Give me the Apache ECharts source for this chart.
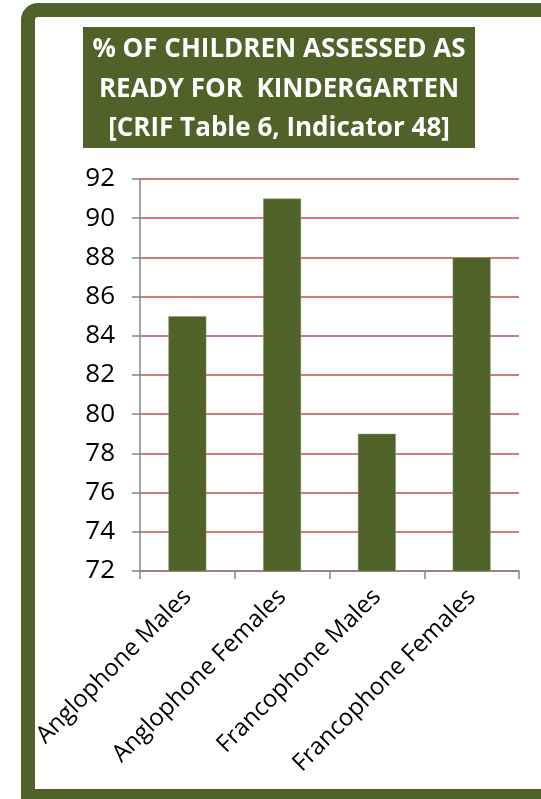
<!DOCTYPE html>
<html><head><meta charset="utf-8">
<script src="https://cdn.jsdelivr.net/npm/echarts@6/dist/echarts.min.js"></script>
<style>html,body{margin:0;padding:0;background:#fff}#c{width:541px;height:799px}</style>
</head><body><div id="c"></div>
<script>
const categories = ["Anglophone Males", "Anglophone Females", "Francophone Males", "Francophone Females"];
const values = [85, 91, 79, 88];
const yTicks = [72, 74, 76, 78, 80, 82, 84, 86, 88, 90, 92];
const titleLines = ["% OF CHILDREN ASSESSED AS", "READY FOR  KINDERGARTEN", "[CRIF Table 6, Indicator 48]"];

const GREEN = "#4F6228";
const FONT = "Open Sans";
const chart = echarts.init(document.getElementById('c'), null, {renderer: 'canvas'});
chart.setOption({
  animation: false,
  backgroundColor: '#fff',
  graphic: [
    {type: 'rect', z: 100, shape: {x: 28, y: 10, width: 600, height: 786, r: [10, 0, 0, 0]},
     style: {fill: null, stroke: GREEN, lineWidth: 14}},
    {type: 'rect', shape: {x: 83, y: 27, width: 392, height: 121}, style: {fill: GREEN}},
    {type: 'text', x: 279, y: 50, style: {text: titleLines[0], fill: '#fff', font: 'bold 26px "Open Sans"', align: 'center', verticalAlign: 'middle'}},
    {type: 'text', x: 279, y: 90, style: {text: titleLines[1], fill: '#fff', font: 'bold 26px "Open Sans"', align: 'center', verticalAlign: 'middle'}},
    {type: 'text', x: 279, y: 129, style: {text: titleLines[2], fill: '#fff', font: 'bold 26px "Open Sans"', align: 'center', verticalAlign: 'middle'}}
  ],
  grid: {left: 140, right: 22, top: 179, bottom: 228, containLabel: false},
  xAxis: {
    type: 'category', data: categories,
    axisLine: {lineStyle: {color: '#868686', width: 1.5}},
    axisTick: {show: true, alignWithLabel: false, length: 8, lineStyle: {color: '#868686', width: 1.5}},
    axisLabel: {rotate: 45, margin: 22, color: '#000', fontFamily: FONT, fontSize: 24, interval: 0}
  },
  yAxis: {
    type: 'value', min: yTicks[0], max: yTicks[yTicks.length - 1], interval: yTicks[1] - yTicks[0],
    axisLine: {show: true, lineStyle: {color: '#868686', width: 1.5}},
    axisTick: {show: true, length: 8, lineStyle: {color: '#868686', width: 1.5}},
    axisLabel: {margin: 25, color: '#000', fontFamily: FONT, fontSize: 26},
    splitLine: {show: true, lineStyle: {color: '#C0504D', width: 1.5}}
  },
  series: [{
    type: 'bar', data: values, barWidth: '40%',
    itemStyle: {color: GREEN, borderColor: '#8a9a70', borderWidth: 0.5}
  }]
});
</script></body></html>
